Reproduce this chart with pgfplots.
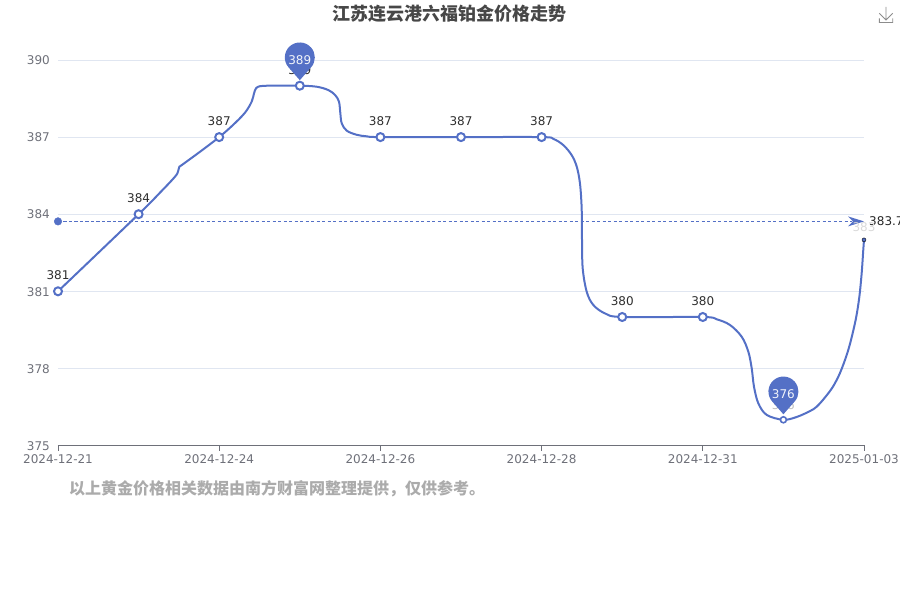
\documentclass[border=0pt]{standalone}
\usepackage{pgfplots}
\pgfplotsset{compat=1.18}
\usepackage{fontspec}
\setmainfont{DejaVu Sans}
\newfontfamily\cjk{Noto Sans CJK SC}
\definecolor{sblue}{HTML}{5470C6}
\definecolor{gridc}{HTML}{E0E6F1}
\definecolor{axisc}{HTML}{6E7079}
\pgfdeclareplotmark{pin}{%
  \pgfpathmoveto{\pgfpoint{0pt}{5.5pt}}%
  \pgfpathlineto{\pgfpoint{-11.3pt}{18.4pt}}%
  \pgfpatharc{221}{-41}{15pt}%
  \pgfpathclose
  \pgfusepathqfill}
\pgfdeclareplotmark{larrow}{%
  \pgfpathmoveto{\pgfpoint{0pt}{0pt}}%
  \pgfpathlineto{\pgfpoint{-16pt}{5pt}}%
  \pgfpathlineto{\pgfpoint{-11pt}{0pt}}%
  \pgfpathlineto{\pgfpoint{-16pt}{-5pt}}%
  \pgfpathclose
  \pgfusepathqfill}
\begin{document}
\begin{tikzpicture}[x=1pt,y=1pt]
\useasboundingbox (0,0) rectangle (900,600);
\begin{axis}[
  at={(58pt,154.5pt)}, anchor=south west,
  scale only axis, width=806pt, height=385.5pt,
  xmin=0, xmax=10, ymin=375, ymax=390,
  clip=false,
  axis x line=bottom, axis y line=left,
  axis line style={-, draw=axisc, line width=0.9pt},
  y axis line style={draw=none},
  xtick={0,2,4,6,8,10},
  xticklabels={2024-12-21,2024-12-24,2024-12-26,2024-12-28,2024-12-31,2025-01-03},
  ytick={375,378,381,384,387,390},
  yticklabel style={/pgf/number format/assume math mode=true, xshift=0.4pt, yshift=-0.4pt},
  tick label style={font=\fontsize{12}{14}\selectfont, text=axisc},
  xticklabel style={yshift=-1pt},
  tick align=outside,
  major tick length=5pt,
  x tick style={draw=axisc, line width=0.9pt},
  y tick style={draw=none},
  ymajorgrids,
  grid style={draw=gridc, line width=0.9pt},
  axis on top=false,
]
% price curve
\addplot[sblue, line width=2pt, line join=round, smooth, tension=0.55, no markers] coordinates {
(0,381)(1,384)(1.266,384.84)(1.452,385.46)(1.489,385.66)(1.505,385.84)(1.535,385.91)
(1.762,386.43)(2,387)(2.171,387.47)(2.320,387.95)(2.403,388.38)(2.432,388.70)(2.457,388.90)
(2.506,388.98)(2.630,389)(3,389)(3.210,388.96)(3.354,388.83)(3.437,388.64)(3.486,388.38)
(3.503,387.93)(3.520,387.54)(3.582,387.25)(3.706,387.09)(3.830,387.03)(4,387)(5,387)(6,387)
(6.145,386.93)(6.269,386.69)(6.373,386.30)(6.436,385.85)(6.476,385.20)(6.497,384.24)(6.501,383.06)
(6.510,381.89)(6.560,380.98)(6.641,380.47)(6.787,380.14)(7,380)(8,380)
(8.173,379.91)(8.337,379.69)(8.483,379.23)(8.565,378.65)(8.607,378.00)(8.635,377.29)(8.689,376.64)(8.793,376.19)
(9,376)(9.165,376.11)(9.330,376.34)(9.413,376.51)(9.516,376.87)(9.615,377.29)(9.702,377.82)(9.785,378.52)(9.839,379.11)(9.901,379.96)(9.942,380.78)(9.971,381.70)(9.991,382.61)(10,383)
};
% average line
\addplot[sblue, line width=0.9pt, dash pattern=on 3.3pt off 2.2pt, no markers] coordinates {(0,383.72)(9.85,383.72)};
\addplot[only marks, mark=*, mark size=3.8pt, mark options={fill=sblue,draw=none}, color=sblue] coordinates {(0,383.72)};
\addplot[only marks, mark=larrow, color=sblue, point meta=explicit symbolic,
  nodes near coords, every node near coord/.style={anchor=west, xshift=1.7pt, font=\fontsize{12}{14}\selectfont, text=black!85}]
  coordinates {(10,383.72) [383.7]};
% regular points
\addplot[only marks, mark=*, mark size=4pt, mark options={fill=white, draw=sblue, line width=2pt}, point meta=explicit symbolic,
  nodes near coords, every node near coord/.style={anchor=center, yshift=16pt, font=\fontsize{12}{14}\selectfont, text=black!82}]
  coordinates {(0,381)[381](1,384)[384](2,387)[387](3,389)[389](4,387)[387](5,387)[387](6,387)[387](7,380)[380](8,380)[380]};
\addplot[only marks, mark=*, mark size=3pt, mark options={fill=white, draw=sblue, line width=1.6pt}, point meta=explicit symbolic,
  nodes near coords, every node near coord/.style={anchor=center, yshift=15pt, font=\fontsize{12}{14}\selectfont, text=black!25}]
  coordinates {(9,376)[376]};
\addplot[only marks, mark=*, mark size=2pt, mark options={fill=sblue, draw=none}, point meta=explicit symbolic,
  nodes near coords, every node near coord/.style={anchor=center, yshift=13pt, font=\fontsize{12}{14}\selectfont, text=black!15}]
  coordinates {(10,383)[383]};
% pins for maximum and minimum
\addplot[only marks, mark=pin, color=sblue, point meta=explicit symbolic,
  nodes near coords, every node near coord/.style={anchor=center, yshift=26pt, font=\fontsize{12}{14}\selectfont, text=white!92!sblue}]
  coordinates {(3,389)[389](9,376)[376]};
\end{axis}
\node[font={\cjk\bfseries\fontsize{18}{20}\selectfont}, text=black!72, anchor=center] at (449.5,586) {江苏连云港六福铂金价格走势};
\node[font={\cjk\bfseries\fontsize{16}{18}\selectfont}, text=black!33, anchor=west, inner sep=0pt] at (69,111.5) {以上黄金价格相关数据由南方财富网整理提供，仅供参考。};
% toolbox icon
\draw[black!45, line width=0.9pt] (886,593) -- (886,580) (879.3,586.7) -- (886,580) -- (892.7,586.7)
  (879.3,581.7) -- (879.3,577.5) -- (892.7,577.5) -- (892.7,581.7);
\end{tikzpicture}
\end{document}
